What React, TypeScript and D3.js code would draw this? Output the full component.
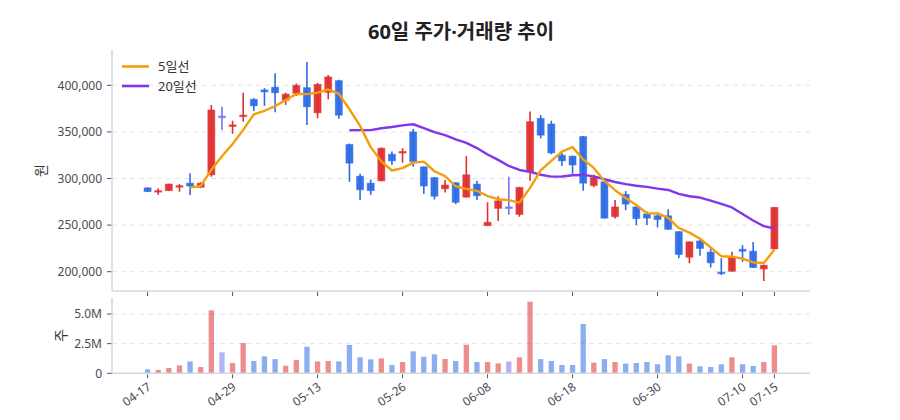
import React from 'react';
import * as d3 from 'd3';

const dates = [
  '04-17', '04-18', '04-21', '04-22', '04-23', '04-24', '04-25', '04-28', '04-29', '04-30',
  '05-01', '05-02', '05-07', '05-08', '05-09', '05-12', '05-13', '05-14', '05-15', '05-16',
  '05-19', '05-20', '05-21', '05-22', '05-26', '05-27', '05-28', '05-29', '05-30', '06-02',
  '06-04', '06-05', '06-08', '06-09', '06-10', '06-11', '06-12', '06-13', '06-16', '06-17',
  '06-18', '06-19', '06-20', '06-23', '06-24', '06-25', '06-26', '06-27', '06-30', '07-01',
  '07-02', '07-03', '07-04', '07-07', '07-08', '07-09', '07-10', '07-11', '07-14', '07-15',
];

const openP = [
  290000, 286500, 287000, 291200, 295000, 290600, 304000, 367000, 356500, 366500,
  385000, 395000, 398000, 384000, 391500, 397500, 370500, 392500, 405000, 336500,
  302500, 295000, 297500, 326000, 327500, 350000, 312500, 301000, 289000, 295500,
  280000, 294000, 249500, 268000, 269500, 261500, 307000, 364500, 358500, 325000,
  324000, 345000, 292500, 296500, 259000, 283000, 269500, 262000, 260000, 260000,
  243000, 215500, 233000, 221000, 199500, 200500, 224000, 222000, 203000, 224500,
];

const highP = [
  290500, 289500, 294500, 294100, 305600, 296000, 379000, 377000, 362000, 392000,
  386000, 397000, 413000, 392000, 402000, 425000, 402500, 411000, 406000, 337500,
  305000, 299000, 333500, 329000, 332500, 353000, 313000, 301500, 298500, 296000,
  324000, 297500, 274500, 281000, 302000, 291000, 372000, 368000, 362000, 327500,
  324500, 345500, 304000, 297000, 277000, 286500, 270000, 264500, 263500, 267000,
  243500, 232500, 236000, 225000, 214500, 221500, 228500, 232000, 207500, 269500,
];

const lowP = [
  285500, 282500, 286500, 285800, 282300, 290000, 302000, 352000, 348000, 361000,
  372500, 378000, 371000, 379000, 388500, 357500, 364500, 385000, 364000, 296500,
  277000, 282500, 297000, 314500, 317000, 312500, 283500, 277500, 285000, 272500,
  279500, 277000, 249000, 254500, 261000, 259000, 297500, 343000, 326000, 313500,
  305000, 287000, 290500, 257000, 257000, 266000, 250000, 250000, 247500, 245000,
  214500, 209000, 217000, 204500, 196500, 200000, 210500, 204000, 190000, 224000,
];

const closeP = [
  286000, 287000, 294000, 292300, 292000, 295000, 373500, 367000, 357500, 368000,
  378000, 393000, 392000, 390500, 400000, 377000, 401000, 409000, 368000, 316500,
  288000, 287000, 332500, 319000, 329000, 318000, 292000, 281000, 293000, 274500,
  304000, 281500, 253000, 276000, 269500, 290500, 361000, 346500, 327500, 319000,
  314500, 295000, 301000, 257500, 269500, 272500, 257000, 257500, 256000, 245500,
  218500, 232000, 225000, 209500, 198300, 215500, 222000, 204500, 207000, 269000,
];

const volume = [
  340000, 280000, 450000, 670000, 1000000, 530000, 5310000, 1770000, 870000, 2550000,
  1040000, 1430000, 1200000, 640000, 1120000, 2240000, 1000000, 1040000, 1000000, 2390000,
  1350000, 1180000, 1260000, 700000, 950000, 1850000, 1400000, 1600000, 1200000, 1040000,
  2410000, 950000, 950000, 840000, 1000000, 1350000, 6040000, 1200000, 1040000, 700000,
  700000, 4160000, 900000, 1200000, 950000, 820000, 870000, 950000, 760000, 1520000,
  1430000, 820000, 590000, 530000, 760000, 1350000, 760000, 620000, 950000, 2360000,
];

const priceTicks = [200000, 250000, 300000, 350000, 400000];
const volumeTicks = [0, 2500000, 5000000];
const legendLabels = ['5일선', '20일선'];
const titleText = '60일 주가·거래량 추이';

const UP = '#e02f2f';
const DOWN = '#2d6be6';
const FLAT = '#7474f0';
const MA5C = '#f59e0b';
const MA20C = '#8236ec';
const FONT = '"Noto Sans", "Noto Sans CJK KR", sans-serif';

function movingAvg(vals: number[], n: number): (number | null)[] {
  return vals.map((_, i) => {
    if (i < n - 1) return null;
    let s = 0;
    for (let k = i - n + 1; k <= i; k++) s += vals[k];
    return s / n;
  });
}

export default function App() {
  const left = 112;
  const right = 810;
  const pTop = 50;
  const pBot = 291;
  const vTop = 298;
  const vBot = 373.3;

  const x = d3.scalePoint<string>().domain(dates).range([left, right]).padding(3.35);
  const step = x.step();
  const yP = d3.scaleLinear().domain([179300, 437900]).range([pBot, pTop]);
  const yV = d3.scaleLinear().domain([0, 6350000]).range([vBot, vTop]);

  const ma5 = movingAvg(closeP, 5);
  const ma20 = movingAvg(closeP, 20);
  const line = d3
    .line<number | null>()
    .defined((d) => d !== null)
    .x((_, i) => x(dates[i]) as number)
    .y((d) => yP(d as number));

  const colorOf = (i: number) =>
    closeP[i] > openP[i] ? UP : closeP[i] < openP[i] ? DOWN : FLAT;

  const tickIdx = dates.map((_, i) => i).filter((i) => i % 8 === 0 || i === dates.length - 1);
  const fmtP = d3.format(',');
  const fmtV = (v: number) => (v === 0 ? '0' : (v / 1e6).toFixed(1) + 'M');
  const bodyW = step * 0.66;
  const volW = step * 0.5;

  return (
    <svg
      width={900}
      height={420}
      style={{ position: 'absolute', left: 0, top: 0, background: '#fff' }}
      fontFamily={FONT}
    >
      <text x={(left + right) / 2} y={39} textAnchor="middle" fontSize={20} fontWeight={700} fill="#222">
        {titleText}
      </text>

      {/* price grid */}
      {priceTicks.map((t) => (
        <g key={'pg' + t}>
          <line x1={left} x2={right} y1={yP(t)} y2={yP(t)} stroke="#e3e5ea" strokeDasharray="5,4" />
          <line x1={left - 5} x2={left} y1={yP(t)} y2={yP(t)} stroke="#555" />
          <text x={left - 10} y={yP(t)} dy="0.35em" textAnchor="end" fontSize={12} fill="#474b55">
            {fmtP(t)}
          </text>
        </g>
      ))}
      <line x1={left} x2={left} y1={pTop} y2={pBot} stroke="#d3d7df" strokeWidth={1.5} />
      <line x1={left} x2={right} y1={pBot} y2={pBot} stroke="#d3d7df" strokeWidth={1.5} />
      {tickIdx.map((i) => (
        <line key={'pt' + i} x1={x(dates[i])} x2={x(dates[i])} y1={pBot + 1} y2={pBot + 5} stroke="#555" />
      ))}
      <text
        transform={`translate(41,${(pTop + pBot) / 2}) rotate(-90)`}
        textAnchor="middle"
        dy="0.35em"
        fontSize={14}
        fill="#333"
      >
        원
      </text>

      {/* candles */}
      {dates.map((d, i) => {
        const cx = x(d) as number;
        const c = colorOf(i);
        const yo = yP(openP[i]);
        const yc = yP(closeP[i]);
        const top = Math.min(yo, yc);
        const h = Math.max(Math.abs(yo - yc), 1.5);
        return (
          <g key={'c' + i}>
            <line x1={cx} x2={cx} y1={yP(highP[i])} y2={yP(lowP[i])} stroke={c} strokeWidth={1.6} />
            <rect
              x={cx - bodyW / 2}
              y={top}
              width={bodyW}
              height={h}
              fill={c}
              fillOpacity={0.95}
              stroke={c}
              strokeOpacity={0.5}
              strokeWidth={1}
            />
          </g>
        );
      })}

      <path d={line(ma20) || ''} fill="none" stroke={MA20C} strokeWidth={2.4} strokeLinejoin="round" />
      <path d={line(ma5) || ''} fill="none" stroke={MA5C} strokeWidth={2.4} strokeLinejoin="round" />

      {/* legend */}
      {legendLabels.map((lab, k) => (
        <g key={'lg' + k} transform={`translate(122,${66.5 + k * 19.5})`}>
          <line x1={0} x2={27} y1={0} y2={0} stroke={k === 0 ? MA5C : MA20C} strokeWidth={2.6} />
          <text x={36} y={0} dy="0.35em" fontSize={13} fill="#333">
            {lab}
          </text>
        </g>
      ))}

      {/* volume panel */}
      {volumeTicks.map((t) => (
        <g key={'vg' + t}>
          {t > 0 && (
            <line x1={left} x2={right} y1={yV(t)} y2={yV(t)} stroke="#e3e5ea" strokeDasharray="5,4" />
          )}
          <line x1={left - 5} x2={left} y1={yV(t)} y2={yV(t)} stroke="#555" />
          <text x={left - 10} y={yV(t)} dy="0.35em" textAnchor="end" fontSize={12} fill="#474b55">
            {fmtV(t)}
          </text>
        </g>
      ))}
      {dates.map((d, i) => (
        <rect
          key={'v' + i}
          x={(x(d) as number) - volW / 2}
          y={yV(volume[i])}
          width={volW}
          height={vBot - yV(volume[i])}
          fill={colorOf(i)}
          fillOpacity={0.55}
        />
      ))}
      <line x1={left} x2={left} y1={vTop} y2={vBot} stroke="#d3d7df" strokeWidth={1.5} />
      <line x1={left} x2={right} y1={vBot} y2={vBot} stroke="#d3d7df" strokeWidth={1.5} />
      <text
        transform={`translate(61,${(vTop + vBot) / 2}) rotate(-90)`}
        textAnchor="middle"
        dy="0.35em"
        fontSize={14}
        fill="#333"
      >
        주
      </text>
      {tickIdx.map((i) => {
        const tx = x(dates[i]) as number;
        return (
          <g key={'vt' + i}>
            <line x1={tx} x2={tx} y1={vBot + 1} y2={vBot + 5} stroke="#555" />
            <text
              transform={`translate(${tx + 2},${vBot + 12}) rotate(-35)`}
              textAnchor="end"
              dy="0.35em"
              fontSize={12}
              fill="#474b55"
            >
              {dates[i]}
            </text>
          </g>
        );
      })}
    </svg>
  );
}
